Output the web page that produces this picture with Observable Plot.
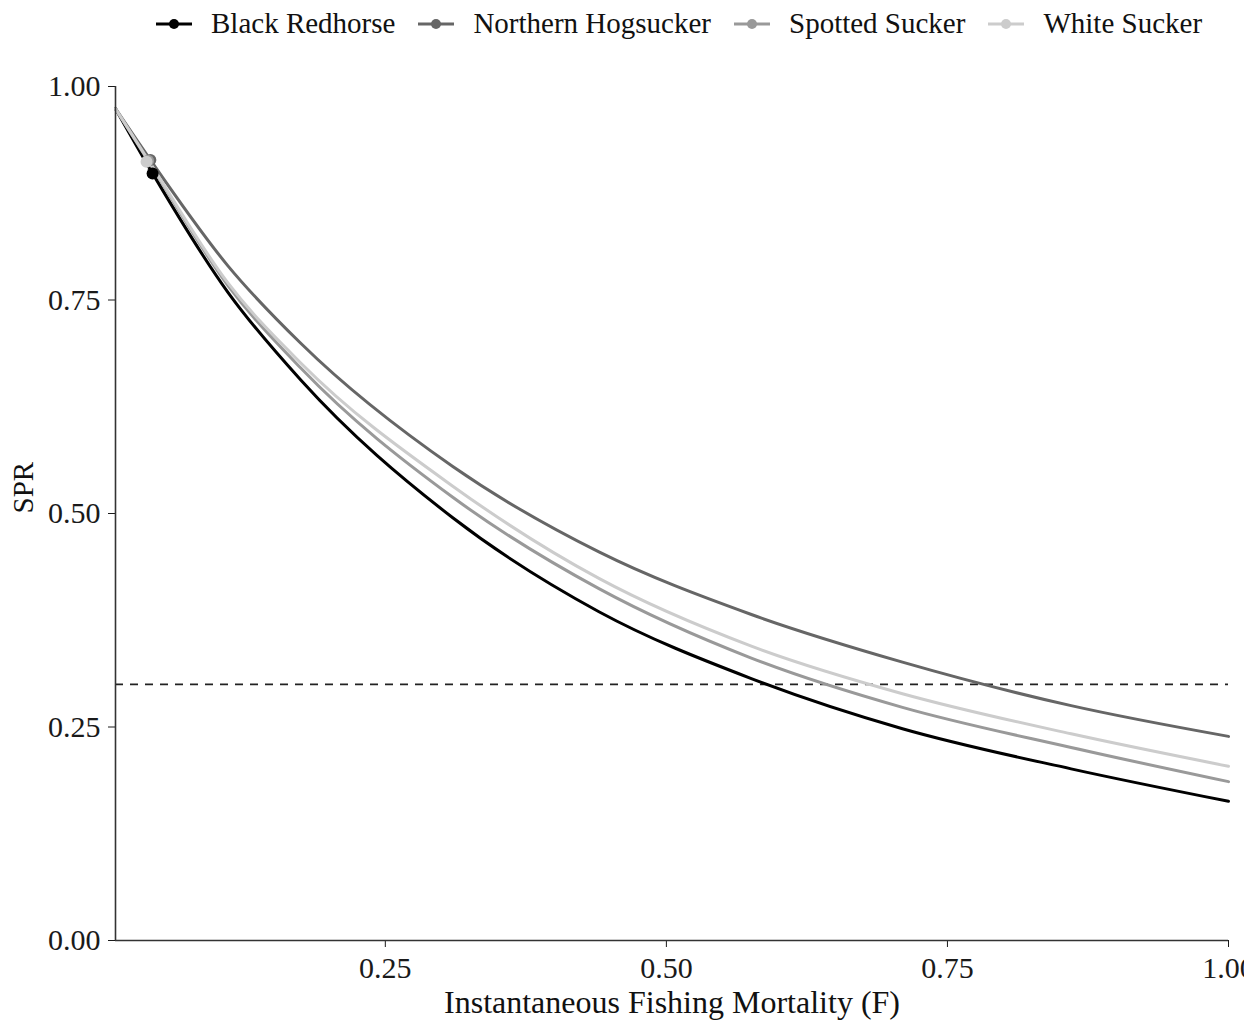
<!DOCTYPE html>
<html>
<head>
<meta charset="utf-8">
<script src="https://cdn.jsdelivr.net/npm/d3@7"></script>
<script src="https://cdn.jsdelivr.net/npm/@observablehq/plot@0.6"></script>
<style>
  body { margin: 0; background: #fff; font-family: "Liberation Serif", "Times New Roman", serif; }
  #wrap { width: 1244px; overflow: hidden; }
  #legend { height: 47px; display: flex; align-items: center; padding-left: 155px; box-sizing: border-box; }
  .item { display: flex; align-items: center; margin-right: 22px; }
  .item svg { display: block; margin-right: 18px; }
  .item span { font-size: 29px; color: #111; line-height: 1; }
</style>
</head>
<body>
<div id="wrap">
  <div id="legend"></div>
  <div id="chart"></div>
</div>
<script>
// Species and their line colours
const species = ["Black Redhorse", "Northern Hogsucker", "Spotted Sucker", "White Sucker"];
const colors = ["#000000", "#666666", "#999999", "#cccccc"];

// Instantaneous fishing mortality grid
const fishingMortality = [0.01, 0.04, 0.11, 0.175, 0.31, 0.44, 0.575, 0.71, 0.86, 1.0];

// Spawning potential ratio per species along the F grid
const sprBlackRedhorse     = [0.974, 0.905, 0.759, 0.656, 0.495, 0.385, 0.307, 0.248, 0.201, 0.163];
const sprNorthernHogsucker = [0.974, 0.916, 0.790, 0.699, 0.555, 0.455, 0.382, 0.326, 0.275, 0.239];
const sprSpottedSucker     = [0.974, 0.911, 0.767, 0.670, 0.519, 0.412, 0.331, 0.273, 0.226, 0.186];
const sprWhiteSucker       = [0.974, 0.912, 0.770, 0.676, 0.532, 0.424, 0.345, 0.289, 0.242, 0.204];

// Current fishing mortality marker per species
const markerF   = [0.043, 0.041, 0.039, 0.0376];
const markerSPR = [0.898, 0.914, 0.913, 0.912];

// Reference SPR threshold
const referenceSPR = 0.30;

// Axis ticks
const xTicks = [0.25, 0.50, 0.75, 1.00];
const yTicks = [0.00, 0.25, 0.50, 0.75, 1.00];

const sprSeries = [sprBlackRedhorse, sprNorthernHogsucker, sprSpottedSucker, sprWhiteSucker];
const curves = species.flatMap((s, i) =>
  fishingMortality.map((f, j) => ({species: s, F: f, SPR: sprSeries[i][j]})));
const markers = species.map((s, i) => ({species: s, F: markerF[i], SPR: markerSPR[i]}));

const xMin = fishingMortality[0];

// Legend
const legend = d3.select("#legend");
species.forEach((s, i) => {
  const item = legend.append("div").attr("class", "item");
  const sw = item.append("svg").attr("width", 38).attr("height", 20);
  sw.append("line").attr("x1", 1).attr("x2", 37).attr("y1", 10).attr("y2", 10)
    .attr("stroke", colors[i]).attr("stroke-width", 3);
  sw.append("circle").attr("cx", 19).attr("cy", 10).attr("r", 5).attr("fill", colors[i]);
  item.append("span").text(s);
});

const chart = Plot.plot({
  width: 1244,
  height: 974,
  marginLeft: 115,
  marginRight: 16,
  marginTop: 39,
  marginBottom: 81,
  style: {fontFamily: "Liberation Serif, Times New Roman, serif", fontSize: "30px", color: "#1a1a1a", background: "#fff"},
  x: {domain: [xMin, 1.0], ticks: xTicks, tickFormat: d3.format(".2f"), tickSize: 7, tickPadding: 9, label: null},
  y: {domain: [0, 1], ticks: yTicks, tickFormat: d3.format(".2f"), tickSize: 7, tickPadding: 8, label: null},
  color: {domain: species, range: colors},
  marks: [
    Plot.ruleY([referenceSPR], {stroke: "#222", strokeWidth: 1.7, strokeDasharray: "8,7"}),
    Plot.line(curves, {x: "F", y: "SPR", z: "species", stroke: "species", strokeWidth: 3, curve: "monotone-x"}),
    Plot.dot(markers, {x: "F", y: "SPR", fill: "species", r: 6}),
    Plot.ruleX([xMin], {stroke: "#333", strokeWidth: 1.6}),
    Plot.ruleY([0], {stroke: "#333", strokeWidth: 1.6}),
    Plot.text(["Instantaneous Fishing Mortality (F)"], {frameAnchor: "bottom", dy: 72, fontSize: 32, fill: "#111"}),
    Plot.text(["SPR"], {frameAnchor: "left", dx: -92, rotate: -90, fontSize: 29, fill: "#111"})
  ]
});
document.getElementById("chart").append(chart);
</script>
</body>
</html>
